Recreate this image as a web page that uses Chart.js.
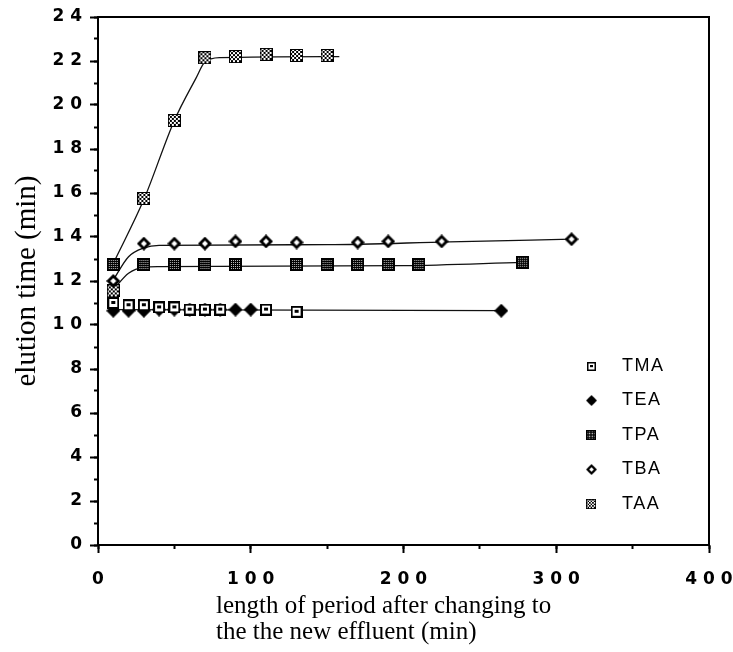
<!DOCTYPE html>
<html lang="en">
<head>
  <meta charset="UTF-8">
  <title>Elution time after changing effluent</title>
  <style>
    body {
      margin: 0;
      background: #ffffff;
    }
    #chartContainer {
      position: relative;
      width: 733px;
      height: 652px;
    }
  </style>
  <script src="https://cdn.jsdelivr.net/npm/chart.js"></script>
</head>
<body>
  <div id="chartContainer">
    <canvas id="chartCanvas" width="733" height="652"></canvas>
  </div>

  <script>
    // measured points, x = minutes after the change, y = elution time (min)
    const tmaX = [10, 20, 30, 40, 50, 60, 70, 80, 110, 130];
    const tmaY = [11.0, 10.9, 10.9, 10.8, 10.8, 10.7, 10.7, 10.7, 10.7, 10.6];

    const teaX = [10, 20, 30, 40, 50, 60, 70, 80, 90, 100, 264];
    const teaY = [10.65, 10.65, 10.65, 10.7, 10.7, 10.7, 10.7, 10.7, 10.7, 10.7, 10.65];

    const tpaX = [10, 30, 50, 70, 90, 130, 150, 170, 190, 210, 278];
    const tpaY = [12.75, 12.75, 12.75, 12.75, 12.75, 12.75, 12.75, 12.75, 12.75, 12.75, 12.85];

    const tbaX = [10, 30, 50, 70, 90, 110, 130, 170, 190, 225, 310];
    const tbaY = [12.0, 13.7, 13.7, 13.7, 13.8, 13.8, 13.75, 13.75, 13.8, 13.8, 13.9];

    const taaX = [10, 30, 50, 70, 90, 110, 130, 150];
    const taaY = [11.55, 15.75, 19.3, 22.15, 22.2, 22.3, 22.25, 22.25];

    // hand drawn guide curves, nodes
    const fitLowX = [10, 264];
    const fitLowY = [10.7, 10.65];
    const fitTpaX = [10, 20, 30, 40, 200, 278];
    const fitTpaY = [11.6, 12.35, 12.62, 12.65, 12.7, 12.85];
    const fitTbaX = [10, 20, 30, 40, 150, 230, 310];
    const fitTbaY = [12.05, 13.1, 13.5, 13.62, 13.65, 13.78, 13.9];
    const fitTaaX = [10, 30, 50, 64, 70, 80, 158];
    const fitTaaY = [12.8, 15.7, 19.3, 21.2, 21.95, 22.15, 22.2];

    const seriesNames = ['TMA', 'TEA', 'TPA', 'TBA', 'TAA'];

    const xTicks = [0, 100, 200, 300, 400];
    const yTicks = [0, 2, 4, 6, 8, 10, 12, 14, 16, 18, 20, 22, 24];

    function toPoints(xs, ys) {
      return xs.map((x, i) => ({ x: x, y: ys[i] }));
    }

    // small canvases used as marker symbols
    function newMark(size) {
      const c = document.createElement('canvas');
      c.width = size;
      c.height = size;
      return c;
    }

    function markOpenSquare() {
      const c = newMark(12);
      const g = c.getContext('2d');
      g.fillStyle = '#000';
      g.fillRect(0, 0, 12, 12);
      g.fillStyle = '#fff';
      g.fillRect(2, 2, 8, 8);
      g.fillStyle = '#000';
      g.fillRect(4, 4, 4, 3);
      return c;
    }

    function diamondPath(g, s, inset) {
      const h = s / 2;
      g.beginPath();
      g.moveTo(h, inset);
      g.lineTo(s - inset, h);
      g.lineTo(h, s - inset);
      g.lineTo(inset, h);
      g.closePath();
    }

    function markDiamond() {
      const c = newMark(14);
      const g = c.getContext('2d');
      g.fillStyle = '#000';
      diamondPath(g, 14, 0);
      g.fill();
      return c;
    }

    function markOpenDiamond() {
      const c = newMark(14);
      const g = c.getContext('2d');
      g.fillStyle = '#000';
      diamondPath(g, 14, 0);
      g.fill();
      g.fillStyle = '#fff';
      diamondPath(g, 14, 4);
      g.fill();
      return c;
    }

    function markDarkChecker() {
      const c = newMark(13);
      const g = c.getContext('2d');
      g.fillStyle = '#000';
      g.fillRect(0, 0, 13, 13);
      g.fillStyle = '#bbb';
      for (let i = 2; i < 11; i += 2) {
        for (let j = 2; j < 11; j += 2) {
          g.fillRect(i, j, 1, 1);
        }
      }
      return c;
    }

    function markLightChecker() {
      const c = newMark(13);
      const g = c.getContext('2d');
      g.fillStyle = '#000';
      g.fillRect(0, 0, 13, 13);
      g.fillStyle = '#fff';
      for (let i = 1; i < 12; i++) {
        for (let j = 1; j < 12; j++) {
          if ((Math.floor(i / 2) + Math.floor(j / 2)) % 2 === 1) g.fillRect(i, j, 1, 1);
        }
      }
      return c;
    }

    const marks = [markOpenSquare(), markDiamond(), markDarkChecker(), markOpenDiamond(), markLightChecker()];

    // letter spaced tick labels like the original typesetting
    function spaced(v) {
      return String(v).split('').join(' ');
    }

    function fitLine(xs, ys) {
      return {
        data: toPoints(xs, ys),
        showLine: true,
        borderColor: '#111',
        borderWidth: 1.3,
        pointRadius: 0,
        cubicInterpolationMode: 'monotone',
        order: 1
      };
    }

    function markSet(i, xs, ys) {
      return {
        label: seriesNames[i],
        data: toPoints(xs, ys),
        showLine: false,
        pointStyle: marks[i],
        pointRadius: 6,
        order: 0
      };
    }

    // top and right edges of the box
    const framePlugin = {
      id: 'frame',
      beforeDatasetsDraw(chart) {
        const a = chart.chartArea;
        const ctx = chart.ctx;
        ctx.save();
        ctx.strokeStyle = '#000';
        ctx.lineWidth = 2;
        ctx.beginPath();
        ctx.moveTo(a.left, a.top);
        ctx.lineTo(a.right, a.top);
        ctx.lineTo(a.right, a.bottom);
        ctx.stroke();
        ctx.restore();
      }
    };

    // legend inside the plot, lower right
    const legendPlugin = {
      id: 'innerLegend',
      afterDatasetsDraw(chart) {
        const ctx = chart.ctx;
        ctx.save();
        ctx.font = '18px "Liberation Sans"';
        ctx.letterSpacing = '1.5px';
        ctx.fillStyle = '#000';
        ctx.textBaseline = 'middle';
        seriesNames.forEach((name, i) => {
          const y = 366 + i * 34.5;
          const m = marks[i];
          const w = m.width - 3;
          ctx.drawImage(m, Math.round(591 - w / 2), Math.round(y - w / 2), w, w);
          ctx.fillText(name, 622, y);
        });
        ctx.restore();
      }
    };

    // two line x title, lines left aligned
    const xTitlePlugin = {
      id: 'xTitle',
      afterDraw(chart) {
        const ctx = chart.ctx;
        ctx.save();
        ctx.font = '25px "Liberation Serif"';
        ctx.fillStyle = '#000';
        ctx.textBaseline = 'middle';
        ctx.textAlign = 'left';
        ctx.fillText('length of period after changing to', 216, 606);
        ctx.fillText('the the new effluent (min)', 216, 632);
        ctx.restore();
      }
    };

    const tickFont = { family: 'DejaVu Sans', size: 17, weight: 'bold' };

    window.onload = () => {
      const ctx = document.getElementById('chartCanvas').getContext('2d');
      Chart.defaults.color = '#000';

      new Chart(ctx, {
        type: 'scatter',
        data: {
          datasets: [
            markSet(0, tmaX, tmaY),
            markSet(1, teaX, teaY),
            markSet(2, tpaX, tpaY),
            markSet(3, tbaX, tbaY),
            markSet(4, taaX, taaY),
            fitLine(fitLowX, fitLowY),
            fitLine(fitTpaX, fitTpaY),
            fitLine(fitTbaX, fitTbaY),
            fitLine(fitTaaX, fitTaaY)
          ]
        },
        plugins: [framePlugin, legendPlugin, xTitlePlugin],
        options: {
          responsive: false,
          animation: false,
          layout: { padding: 0 },
          plugins: {
            legend: { display: false },
            tooltip: { enabled: false }
          },
          scales: {
            x: {
              type: 'linear',
              position: 'bottom',
              weight: 1,
              min: xTicks[0],
              max: xTicks[xTicks.length - 1],
              afterBuildTicks: s => { s.ticks = xTicks.map(v => ({ value: v })); },
              ticks: { font: tickFont, padding: 16, maxRotation: 0, callback: spaced },
              grid: { drawOnChartArea: false, tickLength: 8, tickWidth: 2, tickColor: '#000' },
              border: { display: true, width: 2, color: '#000' },
              afterFit: s => { s.height = 107; s.paddingLeft = 0; s.paddingRight = 24; }
            },
            xMinor: {
              type: 'linear',
              position: 'bottom',
              weight: 0,
              min: 0,
              max: 400,
              ticks: { display: false, stepSize: 50 },
              grid: { drawOnChartArea: false, tickLength: 4, tickWidth: 2, tickColor: '#000' },
              border: { display: false },
              afterFit: s => { s.height = 0; s.paddingLeft = 0; s.paddingRight = 0; }
            },
            y: {
              type: 'linear',
              position: 'left',
              weight: 1,
              min: yTicks[0],
              max: yTicks[yTicks.length - 1],
              afterBuildTicks: s => { s.ticks = yTicks.map(v => ({ value: v })); },
              ticks: { font: tickFont, padding: 8, callback: spaced },
              grid: { drawOnChartArea: false, tickLength: 8, tickWidth: 2, tickColor: '#000' },
              border: { display: true, width: 2, color: '#000' },
              title: {
                display: true,
                text: 'elution time (min)',
                font: { family: 'Liberation Serif', size: 29 },
                padding: { top: 10, bottom: 0 }
              },
              afterFit: s => { s.width = 98; s.paddingTop = 17; s.paddingBottom = 0; }
            },
            yMinor: {
              type: 'linear',
              position: 'left',
              weight: 0,
              min: 0,
              max: 24,
              ticks: { display: false, stepSize: 1 },
              grid: { drawOnChartArea: false, tickLength: 4, tickWidth: 2, tickColor: '#000' },
              border: { display: false },
              afterFit: s => { s.width = 0; s.paddingTop = 0; s.paddingBottom = 0; }
            }
          }
        }
      });
    };
  </script>
</body>
</html>
